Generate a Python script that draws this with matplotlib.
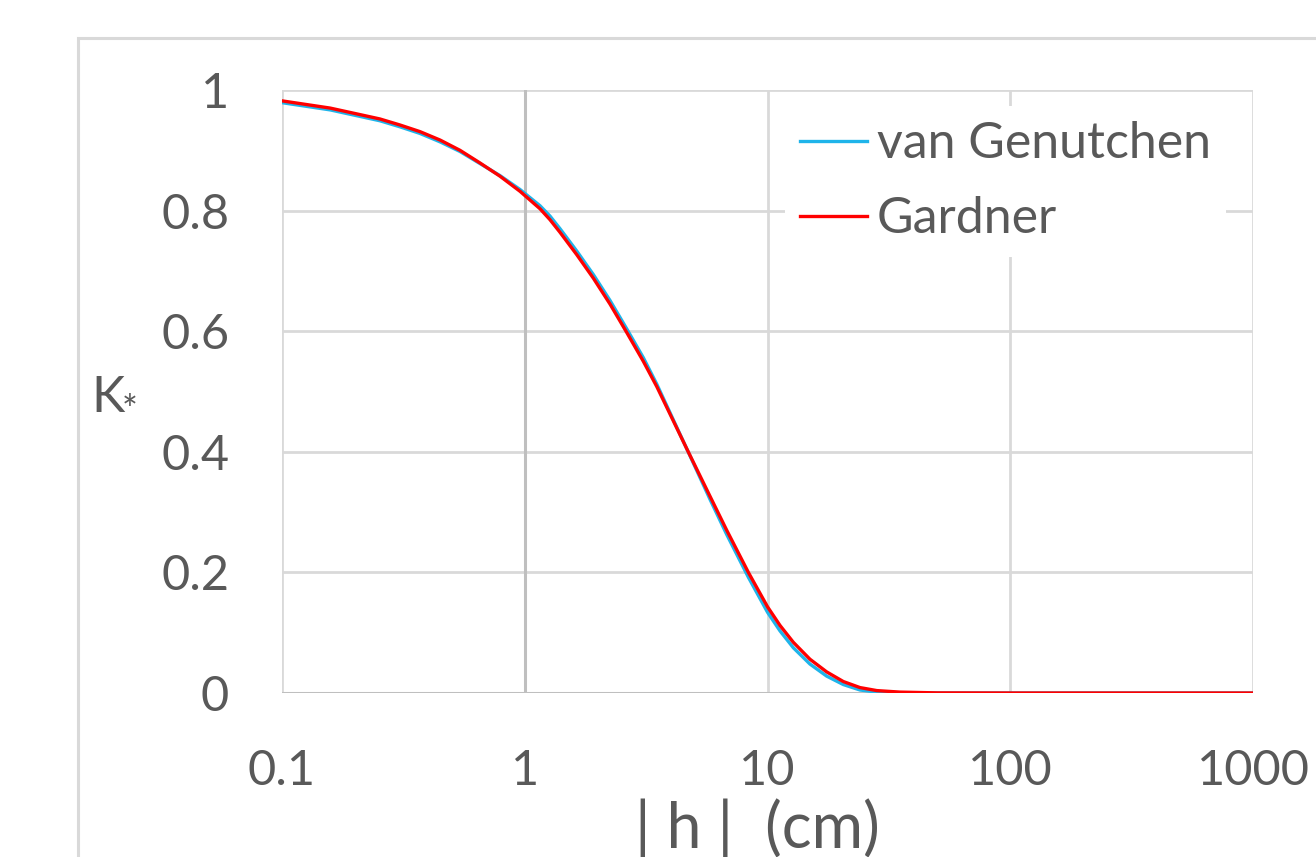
import matplotlib
matplotlib.use("Agg")
import matplotlib.pyplot as plt
from matplotlib.patches import Rectangle

# |h| (cm)
h_cm = [0.1, 0.158, 0.253, 0.306, 0.370, 0.448, 0.541, 0.654, 0.791, 0.956,
        1.156, 1.27, 1.397, 1.637, 1.916, 2.245, 2.63, 3.08, 3.5, 4.65,
        5.8, 6.79, 8.34, 10.0, 11.26, 12.78, 14.96, 17.53, 20.53, 24.04,
        28.2, 35.1, 50.0, 100.0, 1000.0]
# K* Gardner (red)
k_gardner = [0.982, 0.970, 0.952, 0.942, 0.931, 0.917, 0.900, 0.879, 0.857, 0.832,
             0.803, 0.785, 0.764, 0.727, 0.688, 0.645, 0.598, 0.550, 0.508, 0.405,
             0.326, 0.270, 0.200, 0.143, 0.112, 0.084, 0.056, 0.035, 0.019, 0.009,
             0.004, 0.0015, 0.0002, 0.0, 0.0]
# K* van Genuchten (blue)
k_vg = [0.979, 0.967, 0.949, 0.939, 0.928, 0.914, 0.898, 0.878, 0.858, 0.835,
        0.808, 0.791, 0.770, 0.733, 0.694, 0.651, 0.604, 0.556, 0.512, 0.405,
        0.321, 0.263, 0.192, 0.134, 0.103, 0.075, 0.048, 0.028, 0.014, 0.005,
        0.0015, 0.0003, 0.0, 0.0, 0.0]

x_ticks = [0.1, 1, 10, 100, 1000]
x_tick_labels = ["0.1", "1", "10", "100", "1000"]
y_ticks = [0, 0.2, 0.4, 0.6, 0.8, 1.0]
y_tick_labels = ["0", "0.2", "0.4", "0.6", "0.8", "1"]

txt = "#595959"
grid_c = "#d9d9d9"
fs = 35
plt.rcParams["font.family"] = ["Lato", "DejaVu Sans"]

W, H = 1316, 857
fig = plt.figure(figsize=(W / 100, H / 100), dpi=100)
ax = fig.add_axes([282 / W, 1 - 693 / H, (1253 - 282) / W, (693 - 90) / H])

# outer chart frame (runs off the right and bottom edges)
fig.patches.append(Rectangle((78 / W, -0.2), 1.0, 1.2 - 38 / H,
                             transform=fig.transFigure, fill=False,
                             edgecolor=grid_c, lw=2.2, clip_on=False))

ax.plot(h_cm, k_vg, color="#1fb4ea", lw=2.4, label="van Genutchen", zorder=3)
ax.plot(h_cm, k_gardner, color="#ff0000", lw=2.4, label="Gardner", zorder=4)

ax.set_xscale("log")
ax.set_xlim(0.1, 1000)
ax.set_ylim(0, 1)
ax.set_xticks(x_ticks)
ax.set_xticklabels(x_tick_labels)
ax.set_yticks(y_ticks)
ax.set_yticklabels(y_tick_labels)
ax.minorticks_off()
ax.tick_params(length=0, labelsize=fs, labelcolor=txt)
ax.tick_params(axis="y", pad=38)
ax.tick_params(axis="x", pad=40)

ax.grid(True, color=grid_c, lw=2.0, zorder=0)
ax.set_axisbelow(True)
for s in ax.spines.values():
    s.set_visible(False)
# value axis crosses at 1, category axis line at 0
ax.axvline(1, color="#bfbfbf", lw=2.2, zorder=1)
ax.axhline(0, color="#bfbfbf", lw=2.2, zorder=1)

ax.set_xlabel("| h |  (cm)", fontsize=45, color=txt, labelpad=4)
ax.xaxis.label.set_x((757 - 282) / (1253 - 282))
fig.text(91 / W, 1 - 398 / H, "K", fontsize=fs + 1, color=txt, ha="left", va="center")
fig.text(122 / W, 1 - 412 / H, "*", fontsize=fs - 8, color=txt, ha="left", va="center")

leg = ax.legend(loc="upper left", bbox_to_anchor=(785 / W, 1 - 106 / H),
                bbox_transform=fig.transFigure, fontsize=36, frameon=True,
                handlelength=1.34, handletextpad=0.2, labelspacing=0.58,
                borderpad=0.3, borderaxespad=0)
leg.get_frame().set_facecolor("white")
leg.get_frame().set_edgecolor("none")
leg.get_frame().set_alpha(1)
leg.get_frame().set_boxstyle("square", pad=0)
for t in leg.get_texts():
    t.set_color(txt)
for l in leg.get_lines():
    l.set_linewidth(2.4)

fig.savefig("out.png", dpi=100)
